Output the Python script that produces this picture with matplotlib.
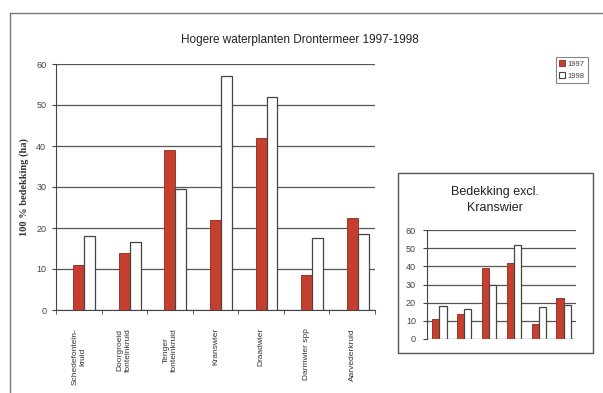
import matplotlib
matplotlib.use("Agg")
import matplotlib.pyplot as plt
import numpy as np
from matplotlib.lines import Line2D
from matplotlib.patches import Rectangle

categories = ["Schedefontein-\nkruid", "Doorgroeid\nfonteinkruid", "Tenger\nfonteinkruid",
              "Kranswier", "Draadwier", "Darmwier spp", "Aarvederkruid"]
v1997 = [11, 14, 39, 22, 42, 8.5, 22.5]
v1998 = [18, 16.5, 29.5, 57, 52, 17.5, 18.5]
yticks = [0, 10, 20, 30, 40, 50, 60]

inset_idx = [0, 1, 2, 4, 5, 6]
inset_1997 = [v1997[i] for i in inset_idx]
inset_1998 = [v1998[i] for i in inset_idx]

RED = "#c63f2e"
REDEDGE = "#8a2a1e"
EDGE = "#444444"
GRID = "#555555"

plt.rcParams['font.family'] = ['Liberation Sans', 'DejaVu Sans']

fig = plt.figure(figsize=(6.03, 3.93), dpi=100)
fig.patch.set_facecolor("white")

W, H = 603.0, 393.0
def fx(px): return px / W
def fy(py): return 1 - py / H

# outer frame
fig.add_artist(Line2D([fx(10), 1.0], [fy(13), fy(13)], color="#777777", lw=1.0))
fig.add_artist(Line2D([fx(10), fx(10)], [fy(13), 0.0], color="#777777", lw=1.0))

# main axes
ax = fig.add_axes([fx(56), fy(310), fx(375) - fx(56), fy(64) - fy(310)])
x = np.arange(len(categories))
bw = 0.24
ax.bar(x, v1997, width=bw, color=RED, edgecolor=REDEDGE, linewidth=0.6, zorder=3, label="1997")
ax.bar(x + bw, v1998, width=bw, color="white", edgecolor=EDGE, linewidth=0.9, zorder=3, label="1998")
ax.set_xlim(-0.5, len(categories) - 0.5)
ax.set_ylim(0, 60)
ax.set_yticks(yticks)
ax.set_yticklabels([str(t) for t in yticks], fontsize=6.5, color="#444444")
ax.yaxis.grid(True, color=GRID, linewidth=0.9, zorder=0)
ax.set_axisbelow(True)
for s in ["top", "right"]:
    ax.spines[s].set_visible(False)
ax.spines["left"].set_color(EDGE)
ax.spines["bottom"].set_color(EDGE)
ax.tick_params(axis="y", length=3, color=EDGE, pad=4)
ax.set_xticks(np.arange(len(categories) + 1) - 0.5, minor=True)
ax.set_xticks(x)
ax.set_xticklabels(categories, rotation=90, fontsize=6, color="#333333",
                   va="top", ha="center", multialignment="center")
ax.tick_params(axis="x", which="major", length=0, pad=13)
ax.tick_params(axis="x", which="minor", length=3, color=EDGE)
ax.set_ylabel("100 % bedekking (ha)", fontsize=7.5, fontweight="bold", color="#333333",
              family=["Liberation Serif", "DejaVu Serif"], labelpad=5)

fig.text(fx(300), fy(40), "Hogere waterplanten Drontermeer 1997-1998", fontsize=8.5,
         ha="center", va="center", color="#222222")

# legend
handles = [Rectangle((0, 0), 1, 1, facecolor=RED, edgecolor=REDEDGE, lw=0.6),
           Rectangle((0, 0), 1, 1, facecolor="white", edgecolor=EDGE, lw=0.8)]
leg = fig.legend(handles, ["1997", "1998"], loc="upper left",
                 bbox_to_anchor=(fx(556), fy(57)), fontsize=5.5, frameon=True,
                 fancybox=False, edgecolor="#666666", handlelength=0.8, handleheight=0.8,
                 handletextpad=0.3, borderpad=0.4, labelspacing=0.6, borderaxespad=0)
leg.get_frame().set_linewidth(0.8)
for t in leg.get_texts():
    t.set_color("#444444")

# inset box
fig.add_artist(Rectangle((fx(398), fy(353)), fx(593) - fx(398), fy(173) - fy(353),
                         transform=fig.transFigure, facecolor="white",
                         edgecolor="#555555", lw=1.0, zorder=0))
fig.text(fx(495), fy(200), "Bedekking excl.\nKranswier", fontsize=9, ha="center",
         va="center", color="#222222", linespacing=1.35)

ax2 = fig.add_axes([fx(427), fy(339), fx(576) - fx(427), fy(230) - fy(339)])
x2 = np.arange(len(inset_idx))
bw2 = 0.29
ax2.bar(x2 - bw2 / 2, inset_1997, width=bw2, color=RED, edgecolor=REDEDGE, linewidth=0.6, zorder=3)
ax2.bar(x2 + bw2 / 2, inset_1998, width=bw2, color="white", edgecolor=EDGE, linewidth=0.9, zorder=3)
ax2.set_xlim(-0.5, len(inset_idx) - 0.5)
ax2.set_ylim(0, 60)
ax2.set_yticks(yticks)
ax2.set_yticklabels([str(t) for t in yticks], fontsize=6.5, color="#444444")
ax2.yaxis.grid(True, color=GRID, linewidth=0.9, zorder=0)
ax2.set_axisbelow(True)
for s in ["top", "right", "bottom"]:
    ax2.spines[s].set_visible(False)
ax2.spines["left"].set_color(EDGE)
ax2.set_xticks([])
ax2.tick_params(axis="y", length=3, color=EDGE, pad=5)
ax2.patch.set_alpha(0)

fig.savefig("out.png", dpi=100, facecolor="white")
